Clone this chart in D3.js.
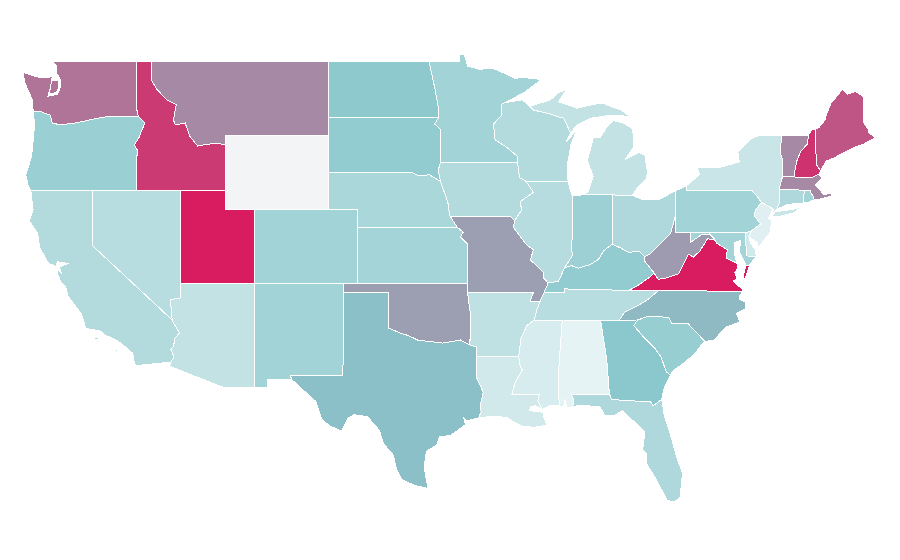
<!DOCTYPE html>
<html>
<head>
<meta charset="utf-8">
<script src="https://cdn.jsdelivr.net/npm/d3@7"></script>
<style>html,body{margin:0;padding:0;background:#fff}svg{display:block}</style>
</head>
<body>
<svg id="map" width="900" height="560"></svg>
<script>
// Values, one per state (null = no data)
const stateNames = ["WA","OR","ID","MT","WY","UT","NV","CA","AZ","CO","NM","TX","OK","KS","NE","SD","ND","MN","IA","MO","AR","LA","MS","TN","KY","IL","IN","OH","WI","MI","PA","NY","VT","NH","ME","MA","RI","CT","NJ","DE","MD","VA","WV","NC","SC","GA","AL","FL"];
const stateValues = [74,43,91,68,null,100,30,32,26,39.5,39.5,52,62,38,36,46,48,39.5,32,62,27,19.5,17,30,46,31,42,34.5,32,26,39.5,23,68,93,83,68,38,34.5,13,20,38,100,63,54,44,49.5,11,34.5];
const colorStops = [0,50,100];
const colorRange = ["#ffffff","#89c7cc","#d91b60"];
const noDataColor = "#f3f4f6";

// Border lines, lon,lat
const borders = {
wa_n:"-122.76,49 -117.04,49", id_n:"-117.04,49 -116.05,49", mt_n:"-116.05,49 -104.05,49",
wa_id:"-117.04,49 -117.04,46.42 -116.92,46",
wa_or:"-124.05,46.27 -123.5,46.27 -123.2,46.15 -122.9,46.08 -122.75,45.65 -122.25,45.55 -121.2,45.65 -120.6,45.75 -119.6,45.92 -119,46 -116.92,46",
wa_coast:"-124.05,46.27 -124.1,46.9 -124.35,47.35 -124.65,47.9 -124.7,48.38 -123.9,48.17 -123.4,48.08 -122.75,48.15 -122.9,47.5 -123.05,47.1 -122.4,47.2 -122.2,47.6 -122.2,48 -122.5,48.4 -122.5,48.75 -122.76,49",
or_id:"-116.92,46 -116.46,45.65 -116.67,45.3 -116.85,44.9 -117.2,44.45 -117.03,44.25 -116.95,44.1 -117.03,43.83 -117.03,42",
or_ca:"-124.21,42 -120,42", or_nv:"-120,42 -117.03,42",
or_coast:"-124.21,42 -124.4,42.3 -124.55,42.84 -124.4,43.2 -124.15,43.9 -124.05,44.7 -123.95,45.6 -124.05,46.27",
id_mt:"-116.05,49 -116.05,48 -115.7,47.5 -115,46.9 -114.35,46.65 -114.55,45.8 -114.4,45.55 -113.75,45.65 -113.45,44.95 -112.9,44.4 -112.3,44.5 -111.5,44.55 -111.05,44.47",
id_wy:"-111.05,44.47 -111.05,42", id_ut:"-114.04,42 -111.05,42", id_nv:"-117.03,42 -114.04,42",
mt_nd:"-104.05,49 -104.05,45.94", mt_sd:"-104.05,45.94 -104.05,45", mt_wy:"-104.05,45 -111.05,45 -111.05,44.47",
wy_sd:"-104.05,45 -104.05,43", wy_ne:"-104.05,43 -104.05,41", wy_co:"-104.05,41 -109.05,41", wy_ut:"-109.05,41 -111.05,41 -111.05,42",
ut_co:"-109.05,41 -109.05,37", ut_az:"-109.05,37 -114.04,37", ut_nv:"-114.04,37 -114.04,42",
co_ne:"-104.05,41 -102.05,41 -102.05,40", co_ks:"-102.05,40 -102.05,37", co_s:"-102.05,37 -103,37", co_nm:"-103,37 -109.05,37",
nv_az:"-114.04,37 -114.04,36.2 -114.4,36.15 -114.75,36.08 -114.63,35", nv_ca:"-114.63,35 -120,39 -120,42",
ca_az:"-114.63,35 -114.55,34.85 -114.14,34.3 -114.45,34 -114.53,33.6 -114.72,33.4 -114.5,33 -114.72,32.72",
ca_coast:"-114.72,32.72 -117.12,32.53 -117.25,32.85 -117.3,33.2 -118.1,33.75 -118.4,33.9 -119.2,34.2 -119.5,34.4 -120.5,34.55 -120.6,34.9 -120.8,35.35 -121.7,36.3 -121.85,36.8 -122.2,37.1 -122.4,37.5 -122.45,37.8 -122.1,37.5 -122.3,37.85 -121.7,38.05 -122.4,38.15 -122.5,37.9 -123,38.05 -123.6,38.9 -123.75,39.7 -124.3,40.35 -124.05,40.95 -124.21,42",
az_nm:"-109.05,37 -109.05,31.33", az_mx:"-109.05,31.33 -111.07,31.33 -114.81,32.5 -114.72,32.72",
nm_ok:"-103,37 -103,36.5", nm_tx:"-103,36.5 -103.06,32 -106.62,32 -106.53,31.78", nm_mx:"-106.53,31.78 -108.2,31.78 -108.2,31.33 -109.05,31.33",
ok_tx_n:"-103,36.5 -100,36.5 -100,34.58",
red:"-100,34.58 -99.2,34.3 -98.6,34.15 -97.95,33.9 -97.05,33.83 -96.3,33.75 -95.1,33.92 -94.45,33.65",
tx_ar:"-94.45,33.65 -94.04,33.55 -94.04,33.02",
tx_la:"-94.04,33.02 -94.04,31.95 -93.55,31.1 -93.75,30.4 -93.7,30.05 -93.85,29.7",
tx_coast:"-93.85,29.7 -94.7,29.55 -94.9,29.75 -94.75,29.35 -95.25,29.05 -95.8,28.75 -96.5,28.7 -96.7,28.25 -97.4,27.9 -97.5,27.35 -97.5,26.8 -97.3,25.9",
tx_rg:"-97.3,25.9 -97.6,25.95 -98.2,26.05 -99.1,26.4 -99.45,27 -99.65,27.7 -100.3,28.3 -100.6,29.05 -101.4,29.77 -102.3,29.88 -102.7,29.7 -103.15,28.98 -104,29.3 -104.5,29.65 -104.9,30.6 -106.53,31.78",
ok_ks:"-102.05,37 -94.62,37", ok_mo:"-94.62,37 -94.62,36.5", ok_ar:"-94.62,36.5 -94.43,35.4 -94.45,33.65",
ne_ks:"-102.05,40 -95.3,40", ks_mo:"-95.3,40 -94.9,39.75 -95.1,39.5 -94.6,39.1 -94.62,37",
sd_ne:"-104.05,43 -98.5,43 -97.9,42.8 -97.2,42.85 -96.45,42.49", ne_ia:"-96.45,42.49 -96.1,41.7 -95.9,41.2 -95.85,40.7 -95.77,40.58", ne_mo:"-95.77,40.58 -95.3,40",
nd_sd:"-104.05,45.94 -96.56,45.94", sd_mn:"-96.56,45.94 -96.85,45.6 -96.45,45.3 -96.45,43.5", sd_ia:"-96.45,43.5 -96.6,43.1 -96.45,42.49",
nd_n:"-104.05,49 -97.23,49", nd_mn:"-97.23,49 -96.85,47.6 -96.55,46.3 -96.56,45.94",
mn_n:"-97.23,49 -95.15,49 -95.15,49.38 -94.82,49.32 -94.6,48.72 -93.8,48.55 -92.95,48.62 -92,48.3 -91.4,48.07 -90.75,48.1 -89.6,48 -90.8,47.28 -92.1,46.75",
mn_wi:"-92.1,46.75 -92.29,46.66 -92.29,46.08 -92.85,45.6 -92.75,44.75 -91.9,44.3 -91.25,43.85 -91.22,43.5",
mn_ia:"-91.22,43.5 -96.45,43.5",
ia_wi:"-91.22,43.5 -91.1,42.7 -90.65,42.5", ia_il:"-90.65,42.5 -90.15,41.9 -91.05,41.4 -90.95,40.95 -91.42,40.38", ia_mo:"-91.42,40.38 -91.73,40.6 -95.77,40.58",
mo_il:"-91.42,40.38 -91.5,40 -90.6,39.05 -90.15,38.8 -90.35,38.25 -89.5,37.6 -89.5,37.3 -89.15,37",
mo_ky:"-89.15,37 -89.42,36.5", mo_tn:"-89.42,36.5 -89.7,36", mo_ar:"-89.7,36 -90.37,36 -90.15,36.5 -94.62,36.5",
ar_tn:"-89.7,36 -89.9,35.6 -90.1,35", ar_ms:"-90.1,35 -90.6,34.7 -91,34 -91.15,33", ar_la:"-91.15,33 -94.04,33.02",
la_ms:"-91.15,33 -91.05,32.5 -90.9,32.3 -91.4,31.6 -91.6,31 -89.73,31 -89.85,30.65 -89.55,30.18",
la_coast:"-89.55,30.18 -90,30.37 -90.35,30.3 -90.4,30.1 -89.85,30.05 -89.4,30 -89.5,29.85 -89.15,29.15 -89.3,29.3 -90.1,29.2 -90.85,29.25 -91.4,29.45 -92,29.75 -93.2,29.78 -93.85,29.7",
tn_ms:"-90.1,35 -88.2,35", ms_al:"-88.2,35 -88.47,31.9 -88.4,30.35", ms_coast:"-88.4,30.35 -89,30.38 -89.55,30.18",
ky_tn:"-89.42,36.5 -88.07,36.5 -88.07,36.68 -83.68,36.6", tn_va:"-83.68,36.6 -81.68,36.59",
tn_nc:"-81.68,36.59 -82.4,36.1 -83.1,35.77 -84,35.4 -84.32,34.99", tn_ga:"-84.32,34.99 -85.6,34.98", tn_al:"-85.6,34.98 -88.2,35",
ky_il:"-89.15,37 -88.45,37.1 -88.05,37.8", ky_in:"-88.05,37.8 -87.6,37.95 -87.1,37.8 -86.3,38 -85.75,38.27 -85.4,38.73 -84.82,39.1",
ky_oh:"-84.82,39.1 -84.25,38.9 -83.7,38.65 -83,38.72 -82.6,38.42", ky_wv:"-82.6,38.42 -82.6,38.17 -81.97,37.54", ky_va:"-81.97,37.54 -82.3,37.3 -83.1,36.85 -83.68,36.6",
wi_il:"-90.65,42.5 -87.8,42.49", il_lake:"-87.8,42.49 -87.6,41.9 -87.53,41.72", il_in:"-87.53,41.72 -87.53,39.35 -87.6,39 -87.5,38.5 -88.05,37.8",
in_n:"-87.53,41.72 -87.2,41.75 -86.82,41.76", in_mi:"-86.82,41.76 -84.8,41.76", in_oh:"-84.8,41.76 -84.82,39.1",
oh_mi:"-84.8,41.76 -83.45,41.73", oh_lake:"-83.45,41.73 -82.7,41.5 -81.7,41.5 -80.52,41.98", oh_pa:"-80.52,41.98 -80.52,40.64", oh_wv:"-80.52,40.64 -80.85,39.7 -81.7,39 -82.2,38.6 -82.6,38.42",
mi_lower:"-83.45,41.73 -83.15,42.1 -82.5,42.6 -82.42,43 -82.6,43.9 -83,44.05 -83.9,43.7 -83.4,44.3 -83.35,45 -83.5,45.4 -84.1,45.65 -84.75,45.78 -85.2,45.4 -85.65,44.85 -86.1,44.85 -86.3,44.2 -86.5,43.65 -86.1,42.75 -86.45,41.94 -86.82,41.76",
mi_up:"-90.4,46.55 -89,46.9 -88.45,47.3 -87.9,47.45 -88.45,46.8 -87.2,46.45 -86,46.67 -85.4,46.7 -84.6,46.45 -84.2,46.35 -83.6,46 -84.85,46.08 -86.3,45.9 -87.2,45.55 -87.65,45.1",
wi_up:"-87.65,45.1 -87.8,45.4 -88.1,45.9 -89.1,46.15 -90.15,46.35 -90.4,46.55",
wi_lake_n:"-92.1,46.75 -90.9,46.9 -90.4,46.55", wi_lake_e:"-87.65,45.1 -87.95,44.6 -87.2,45.3 -87.6,44.5 -87.75,43.8 -87.85,43.4 -87.8,42.49",
pa_lake:"-80.52,41.98 -79.76,42.27", pa_ny:"-79.76,42.27 -79.76,42 -75.35,42 -75.05,41.75 -74.7,41.36", pa_nj:"-74.7,41.36 -75.1,40.95 -75.2,40.65 -74.75,40.2 -75.4,39.8",
pa_de:"-75.4,39.8 -75.8,39.72", pa_md:"-75.8,39.72 -79.48,39.72", pa_wv:"-79.48,39.72 -80.52,39.72 -80.52,40.64",
ny_lake:"-79.76,42.27 -78.9,42.85 -79.05,43.27 -77.5,43.25 -76.2,43.55 -76.3,44.1 -75.3,44.85 -74.7,45 -73.35,45",
ny_vt:"-73.35,45 -73.4,44 -73.25,43.6 -73.27,42.75", ny_ma:"-73.27,42.75 -73.5,42.05", ny_ct:"-73.5,42.05 -73.5,41.3 -73.65,41",
ny_city:"-73.65,41 -73.8,40.85 -73.93,40.75 -73.9,41", ny_nj:"-73.9,41 -74.7,41.36",
vt_n:"-73.35,45 -71.5,45", vt_nh:"-71.5,45 -71.6,44.5 -72.05,44.1 -72.3,43.6 -72.45,43 -72.46,42.73", vt_ma:"-72.46,42.73 -73.27,42.75",
nh_n:"-71.5,45 -71.3,45.3 -71.05,45.3", nh_me:"-71.05,45.3 -70.98,43.4 -70.7,43.07", nh_coast:"-70.7,43.07 -70.82,42.87", nh_ma:"-70.82,42.87 -71.3,42.7 -72.46,42.73",
me_out:"-71.05,45.3 -70.8,45.4 -70.4,45.8 -70.25,46.2 -70,46.7 -69.22,47.46 -68.9,47.2 -68.3,47.35 -67.8,47.07 -67.8,45.7 -67.45,45.3 -67.45,45.15 -67,44.85 -67.8,44.5 -68.5,44.3 -69,44.1 -69.8,43.75 -70.3,43.6 -70.7,43.07",
ma_coast:"-70.82,42.87 -70.6,42.65 -71.05,42.3 -70.7,42 -70.5,41.78 -70,41.85 -70.05,42.05 -69.95,41.7 -70.65,41.55 -71.12,41.5",
ma_ri:"-71.12,41.5 -71.2,41.7 -71.38,41.9 -71.38,42.02 -71.8,42.02", ma_ct:"-71.8,42.02 -73.5,42.05",
ri_ct:"-71.8,42.02 -71.85,41.32", ri_coast:"-71.85,41.32 -71.5,41.37 -71.12,41.5", ct_coast:"-71.85,41.32 -72.9,41.25 -73.65,41",
nj_coast:"-73.9,41 -74.1,40.7 -74.25,40.47 -74,40.4 -74.1,39.75 -74.9,38.93 -75,39.2 -75.55,39.5 -75.4,39.8",
de_e:"-75.4,39.8 -75.55,39.5 -75.4,39.1 -75.1,38.8 -75.05,38.45", md_de:"-75.05,38.45 -75.7,38.46 -75.8,39.72",
md_coast:"-75.05,38.45 -75.5,37.97 -75.75,37.97", md_bay:"-75.75,37.97 -75.95,38.3 -76.2,38.7 -76.1,39.3 -76.5,39.2 -76.5,38.5 -76.4,38.2 -76.3,38.05",
md_va:"-76.3,38.05 -77.1,38.35 -77,38.8 -77.75,39.15 -77.8,39.3", md_wv:"-77.8,39.3 -78.2,39.65 -78.8,39.6 -79.48,39.2 -79.48,39.72",
va_nc:"-81.68,36.59 -75.95,36.55", va_coast:"-75.95,36.55 -75.95,36.68 -76.3,36.85 -76.6,37.1 -76.35,37.25 -76.5,37.55 -76.3,37.8 -76.3,38.05",
va_wv:"-77.8,39.3 -78.35,39.4 -78.85,38.75 -79.3,38.4 -79.65,38.55 -80.3,37.5 -81.25,37.25 -81.7,37.2 -81.97,37.54",
nc_coast:"-75.95,36.55 -76.2,36.3 -76.15,36.1 -75.75,35.95 -75.75,35.6 -76.4,35.35 -76.15,34.9 -77.15,34.6 -77.95,33.87 -78.55,33.86",
nc_sc:"-78.55,33.86 -79.67,34.8 -80.8,34.82 -80.93,35.1 -81.05,35.15 -82.35,35.2 -83.1,35", nc_ga:"-83.1,35 -84.32,34.99",
sc_coast:"-78.55,33.86 -79.2,33.2 -79.9,32.7 -80.7,32.25 -80.87,32.03", sc_ga:"-80.87,32.03 -81.15,32.2 -81.5,33 -81.95,33.5 -82.6,34 -83.35,34.7 -83.1,35",
ga_coast:"-80.87,32.03 -81.3,31.3 -81.45,30.72", ga_fl:"-81.45,30.72 -82.05,30.36 -82.2,30.57 -84.86,30.7 -85,31", ga_al:"-85,31 -85.1,32 -85.18,32.87 -85.6,34.98",
al_fl:"-85,31 -87.6,31 -87.4,30.65 -87.5,30.3", al_coast:"-87.5,30.3 -87.9,30.25 -88,30.7 -88.1,30.35 -88.4,30.35",
fl_coast:"-81.45,30.72 -81.3,29.9 -80.9,28.9 -80.45,27.6 -80.05,26.75 -80.2,25.45 -80.6,25.15 -81.1,25.25 -81.8,26.35 -82.5,27.25 -82.5,27.8 -82.75,27.95 -82.6,28.95 -83.2,29.4 -84.1,30.1 -84.65,29.85 -85.3,29.85 -85.65,30.3 -87,30.4 -87.5,30.3"
};

// Each state: rings made of border names ("-" = reversed) or of its own lon,lat lines
const stateRings = {
WA:[["wa_n","wa_id","-wa_or","wa_coast"],"-122.8,47.95 -122.35,47.95 -122.3,47.55 -122.5,47.3 -122.95,47.2"],
OR:[["wa_or","or_id","-or_nv","-or_ca","or_coast"]],
ID:[["id_n","id_mt","id_wy","-id_ut","-id_nv","-or_id","-wa_id"]],
MT:[["mt_n","mt_nd","mt_sd","mt_wy","-id_mt"]],
WY:[["-mt_wy","wy_sd","wy_ne","wy_co","wy_ut","-id_wy"]],
UT:[["id_ut","-wy_ut","ut_co","ut_az","ut_nv"]],
NV:[["or_nv","id_nv","-ut_nv","nv_az","nv_ca"]],
CA:[["or_ca","-nv_ca","ca_az","ca_coast"],"-120.1,34 -119.6,34.05 -119.6,33.95 -120.1,33.95","-118.6,33.45 -118.3,33.35 -118.4,33.3"],
AZ:[["-ut_az","az_nm","az_mx","-ca_az","-nv_az"]],
CO:[["-wy_co","co_ne","co_ks","co_s","co_nm","-ut_co"]],
NM:[["-co_nm","nm_ok","nm_tx","nm_mx","-az_nm"]],
TX:[["ok_tx_n","red","tx_ar","tx_la","tx_coast","tx_rg","-nm_tx"]],
OK:[["-co_s","ok_ks","ok_mo","ok_ar","-red","-ok_tx_n","-nm_ok"]],
KS:[["ne_ks","ks_mo","-ok_ks","-co_ks"]],
NE:[["sd_ne","ne_ia","ne_mo","-ne_ks","-co_ne","-wy_ne"]],
SD:[["nd_sd","sd_mn","sd_ia","-sd_ne","-wy_sd","-mt_sd"]],
ND:[["nd_n","nd_mn","-nd_sd","-mt_nd"]],
MN:[["mn_n","mn_wi","mn_ia","-sd_mn","-nd_mn"]],
IA:[["-mn_ia","ia_wi","ia_il","ia_mo","-ne_ia","-sd_ia"]],
MO:[["-ia_mo","mo_il","mo_ky","mo_tn","mo_ar","-ok_mo","-ks_mo","-ne_mo"]],
AR:[["-mo_ar","ar_tn","ar_ms","ar_la","-tx_ar","-ok_ar"]],
LA:[["-ar_la","la_ms","la_coast","-tx_la"]],
MS:[["tn_ms","ms_al","ms_coast","-la_ms","-ar_ms"]],
TN:[["ky_tn","tn_va","tn_nc","tn_ga","tn_al","-tn_ms","-ar_tn","-mo_tn"]],
KY:[["ky_il","ky_in","ky_oh","ky_wv","ky_va","-ky_tn","-mo_ky"]],
IL:[["wi_il","il_lake","il_in","-ky_il","-mo_il","-ia_il"]],
IN:[["in_n","in_mi","in_oh","-ky_in","-il_in"]],
OH:[["oh_mi","oh_lake","oh_pa","oh_wv","-ky_oh","-in_oh"]],
WI:[["wi_lake_n","-wi_up","wi_lake_e","-wi_il","-ia_wi","-mn_wi"]],
MI:[["in_mi","oh_mi","mi_lower"],["mi_up","wi_up"],"-89.1,48 -88.6,48.15 -88.55,48.05"],
PA:[["pa_lake","pa_ny","pa_nj","pa_de","pa_md","pa_wv","-oh_pa"]],
NY:[["ny_lake","ny_vt","ny_ma","ny_ct","ny_city","ny_nj","-pa_ny"],"-74,40.6 -73.75,40.85 -72.6,40.98 -72,41.1 -72.5,40.8 -73.5,40.6"],
VT:[["vt_n","vt_nh","vt_ma","-ny_vt"]],
NH:[["nh_n","nh_me","nh_coast","nh_ma","-vt_nh"]],
ME:[["me_out","-nh_me"]],
MA:[["-ny_ma","-vt_ma","-nh_ma","ma_coast","ma_ri","ma_ct"]],
RI:[["ma_ri","ri_ct","ri_coast"]],
CT:[["-ma_ct","ri_ct","ct_coast","-ny_ct"]],
NJ:[["-ny_nj","nj_coast","-pa_nj"]],
DE:[["-pa_de","de_e","md_de"]],
MD:[["-pa_md","-md_de","md_coast","md_bay","md_va","md_wv"]],
VA:[["tn_va","va_nc","va_coast","md_va","va_wv","ky_va"],"-75.95,37.3 -75.75,37.97 -75.5,37.97 -75.8,37.25"],
WV:[["pa_wv","oh_wv","ky_wv","-va_wv","md_wv"]],
NC:[["-tn_nc","va_nc","nc_coast","nc_sc","nc_ga"]],
SC:[["-nc_sc","sc_coast","sc_ga"]],
GA:[["-tn_ga","-nc_ga","-sc_ga","ga_coast","ga_fl","ga_al"]],
AL:[["-tn_al","-ga_al","al_fl","al_coast","-ms_al"]],
FL:[["-ga_fl","fl_coast","-al_fl"]]
};

const parse = s => s.trim().split(/\s+/).map(p => p.split(",").map(Number));
function ringOf(part) {
  if (typeof part === "string") { const r = parse(part); r.push(r[0]); return r; }
  const pts = [];
  part.forEach(k => {
    const rev = k[0] === "-";
    const line = parse(borders[rev ? k.slice(1) : k]);
    if (rev) line.reverse();
    pts.push(...line);
  });
  pts.push(pts[0]);
  return pts;
}

const features = stateNames.map((name, i) => ({
  type: "Feature",
  properties: { name, value: stateValues[i] },
  geometry: { type: "MultiPolygon", coordinates: stateRings[name].map(p => [ringOf(p)]) }
}));

const x = d3.scaleLinear().domain([-111.05, -104.05]).range([225, 328.3]);
const y = d3.scaleLinear().domain([49, 41]).range([61, 209]);
const projection = d3.geoTransform({ point(lon, lat) { this.stream.point(x(lon), y(lat)); } });
const path = d3.geoPath(projection);
const color = d3.scaleLinear().domain(colorStops).range(colorRange);

d3.select("#map").selectAll("path").data(features).join("path")
  .attr("d", path)
  .attr("fill", d => d.properties.value === null ? noDataColor : color(d.properties.value))
  .attr("stroke", "#fff")
  .attr("stroke-width", 1)
  .attr("shape-rendering", "crispEdges");
</script>
</body>
</html>
